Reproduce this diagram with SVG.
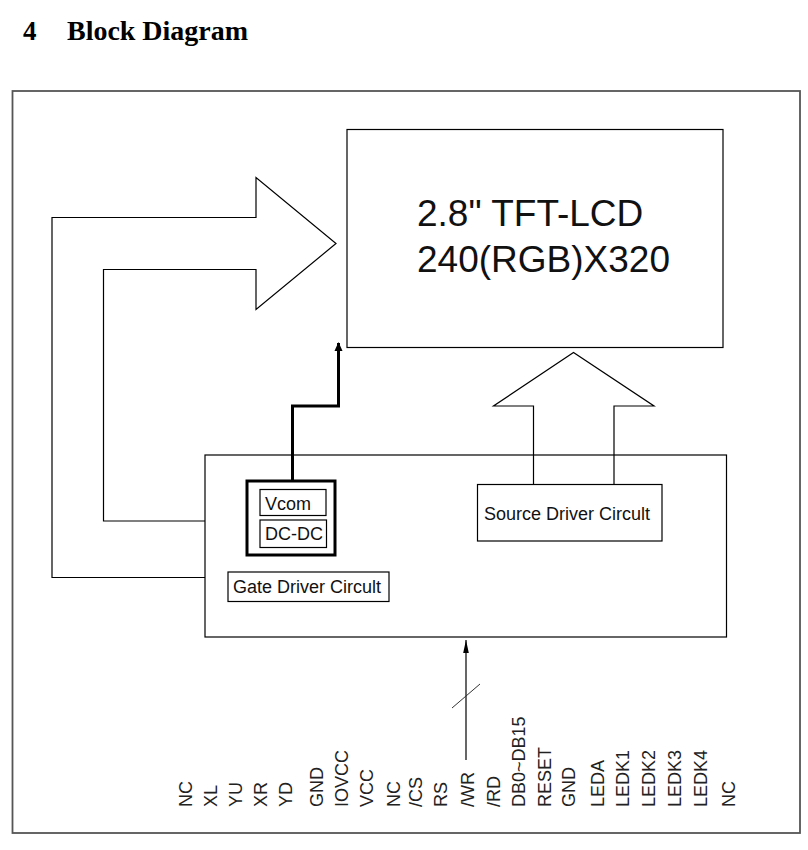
<svg xmlns="http://www.w3.org/2000/svg" width="808" height="850" viewBox="0 0 808 850">
<style>
.ln{fill:none;stroke:#000;stroke-width:1.2}
.box{fill:#fff;stroke:#000;stroke-width:1.2}
.t{font-family:"Liberation Sans",Arial,sans-serif;fill:#111}
.pin{font-family:"Liberation Sans",Arial,sans-serif;font-size:18px;fill:#222}
</style>
<defs>
<marker id="ah" markerWidth="10" markerHeight="10" refX="8" refY="5" orient="auto" markerUnits="userSpaceOnUse">
<path d="M0,1 L9,5 L0,9 Z" fill="#000"/>
</marker>
<marker id="ah2" markerWidth="14" markerHeight="8" refX="13" refY="4" orient="auto" markerUnits="userSpaceOnUse">
<path d="M0,1.2 L13,4 L0,6.8 Z" fill="#000"/>
</marker>
</defs>
<rect width="808" height="850" fill="#fff"/>
<g id="title">
<text x="23" y="40" font-family="'Liberation Serif','Times New Roman',serif" font-weight="bold" font-size="27" fill="#000">4</text>
<text x="67" y="40" font-family="'Liberation Serif','Times New Roman',serif" font-weight="bold" font-size="27" fill="#000" textLength="181" lengthAdjust="spacingAndGlyphs">Block Diagram</text>
</g>
<g id="frame">
<rect x="12.5" y="91" width="787.5" height="742" fill="none" stroke="#555" stroke-width="1.8"/>
</g>
<g id="tft-lcd">
<rect class="box" x="347" y="129.5" width="376" height="218"/>
<text class="t" x="417" y="226" font-size="37">2.8" TFT-LCD</text>
<text class="t" x="417" y="272" font-size="37">240(RGB)X320</text>
</g>
<g id="driver-block">
<rect class="box" x="205" y="455" width="521.5" height="182"/>
</g>
<g id="vcom-dcdc">
<rect x="247" y="481" width="88" height="74" fill="#fff" stroke="#000" stroke-width="3"/>
<rect class="box" x="260" y="489.5" width="66" height="26"/>
<text class="t" x="265" y="510" font-size="18">Vcom</text>
<rect class="box" x="260" y="520" width="66.5" height="27.5"/>
<text class="t" x="265" y="540" font-size="18">DC-DC</text>
</g>
<g id="gate-driver">
<rect class="box" x="228" y="572" width="161" height="29.5"/>
<text class="t" x="233" y="593" font-size="18">Gate Driver Circult</text>
</g>
<g id="source-driver">
<rect class="box" x="477.5" y="484.5" width="184.5" height="56.5"/>
<text class="t" x="484" y="520" font-size="18">Source Driver Circult</text>
</g>
<g id="connectors">
<path class="ln" d="M205,577.5 H52 V217.5 H256 V177.5 L336,243.5 L256,309.5 V269.5 H103.5 V521 H205"/>
<path class="ln" d="M533.5,484.5 V406 H493.5 L573.5,352.5 L654,406 H614 V484.5" fill="#fff"/>
<path d="M292.5,481 V406 H338.5 V343" fill="none" stroke="#000" stroke-width="3" marker-end="url(#ah)"/>
<path d="M466,760 V640" fill="none" stroke="#000" stroke-width="1.2" marker-end="url(#ah2)"/>
<line x1="452" y1="708" x2="480" y2="684" stroke="#333" stroke-width="1"/>
</g>
<g id="pins">
<text class="pin" transform="translate(191.5,807) rotate(-90)">NC</text>
<text class="pin" transform="translate(217,807) rotate(-90)">XL</text>
<text class="pin" transform="translate(242,807) rotate(-90)">YU</text>
<text class="pin" transform="translate(267,807) rotate(-90)">XR</text>
<text class="pin" transform="translate(292,807) rotate(-90)">YD</text>
<text class="pin" transform="translate(323,807) rotate(-90)">GND</text>
<text class="pin" transform="translate(348,807) rotate(-90)">IOVCC</text>
<text class="pin" transform="translate(373,807) rotate(-90)">VCC</text>
<text class="pin" transform="translate(399.5,807) rotate(-90)">NC</text>
<text class="pin" transform="translate(421.5,807) rotate(-90)">/CS</text>
<text class="pin" transform="translate(446.5,807) rotate(-90)">RS</text>
<text class="pin" transform="translate(473.5,807) rotate(-90)">/WR</text>
<text class="pin" transform="translate(499.5,807) rotate(-90)">/RD</text>
<text class="pin" transform="translate(524.5,807) rotate(-90)">DB0~DB15</text>
<text class="pin" transform="translate(550.5,807) rotate(-90)">RESET</text>
<text class="pin" transform="translate(574.5,807) rotate(-90)">GND</text>
<text class="pin" transform="translate(603.5,807) rotate(-90)">LEDA</text>
<text class="pin" transform="translate(628.5,807) rotate(-90)">LEDK1</text>
<text class="pin" transform="translate(654.5,807) rotate(-90)">LEDK2</text>
<text class="pin" transform="translate(680.5,807) rotate(-90)">LEDK3</text>
<text class="pin" transform="translate(707,807) rotate(-90)">LEDK4</text>
<text class="pin" transform="translate(734.5,807) rotate(-90)">NC</text>
</g>
</svg>
